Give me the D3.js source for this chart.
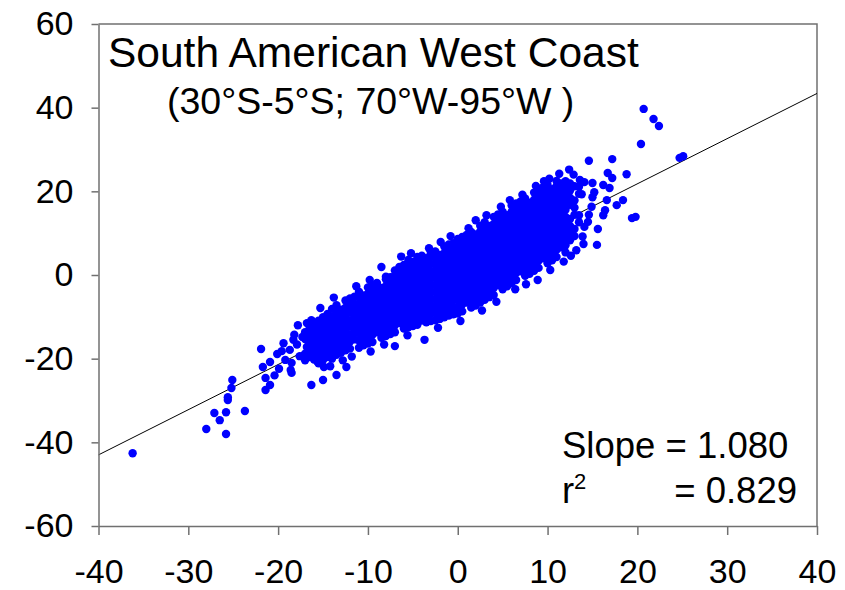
<!DOCTYPE html>
<html>
<head>
<meta charset="utf-8">
<script src="https://cdn.jsdelivr.net/npm/d3@7"></script>
<style>
  body { margin: 0; background: #fff; }
  text { font-family: Arial, "Liberation Sans", sans-serif; fill: #000; }
</style>
</head>
<body>
<svg id="chart" width="845" height="590"></svg>
<script>
// --- data ---
const xTicks = [-40, -30, -20, -10, 0, 10, 20, 30, 40];
const yTicks = [-60, -40, -20, 0, 20, 40, 60];
const titleText = "South American West Coast";
const subtitleText = "(30°S-5°S; 70°W-95°W )";
const slope = 1.080;
const intercept = 0.2;
const rSquared = 0.829;

// isolated points around the cloud
const outliers = [
  [-36.2, -42.6], [-28.0, -36.8], [-27.1, -33.0], [-25.8, -32.8], [-26.5, -34.7],
  [-25.8, -38.0], [-23.7, -32.5], [-25.6, -29.9], [-25.2, -27.0], [-25.1, -25.1],
  [-25.6, -29.2], [-21.9, -17.7], [-21.7, -22.0], [-21.4, -24.6], [-21.4, -27.5],
  [-20.9, -26.3], [-20.9, -20.8], [-20.1, -18.9], [-19.4, -16.3], [-19.6, -18.2],
  [-18.7, -17.9], [-18.3, -15.5], [-19.2, -20.3], [-18.5, -21.0], [-18.6, -22.7],
  [-18.5, -23.4], [-18.2, -14.3], [-17.8, -12.0], [-16.8, -17.2], [-16.3, -18.6],
  [-15.6, -20.8], [-16.8, -11.5], [-16.0, -13.1], [-16.8, -15.5], [-15.4, -14.3],
  [-16.3, -10.8], [-14.9, -11.2], [-14.9, -22.0], [-16.3, -26.3], [-15.0, -25.1],
  [-15.3, -7.9], [-13.5, -23.9], [-12.4, -22.0],
  [-8.5, 1.9], [-7.0, -17.0], [-3.7, -15.5], [8.9, -1.2], [2.0, 13.1], [5.8, 17.9],
  [20.7, 39.7], [21.8, 37.3], [22.4, 35.6], [20.4, 31.3], [24.7, 28.0], [25.1, 28.4],
  [14.6, 27.3], [17.2, 27.7], [16.7, 24.4], [17.2, 23.2], [18.8, 24.1], [16.2, 21.5],
  [16.9, 20.8], [15.0, 22.0], [18.4, 17.9], [17.7, 16.7], [16.6, 17.9], [16.4, 15.5],
  [19.4, 13.6], [19.8, 13.9], [15.0, 18.6], [14.9, 16.3], [14.1, 11.5], [14.5, 12.7],
  [14.0, 7.4], [15.5, 7.2], [13.6, 22.7], [14.1, 22.2], [16.2, 14.3]
];

// points sticking out of the upper and lower edges of the cloud
const edgePoints = [
  [-17.6, -19.4], [-17.3, -14.8], [-17.9, -16.6], [-19.9, -22.4], [-20.4, -24.0],
  [-11.8, -19.5], [-9.7, -18.3], [-8.2, -16.6], [-5.6, -14.4], [-2.2, -12.6],
  [0.3, -11.0], [2.7, -8.5], [4.3, -6.4], [6.4, -3.4], [7.6, -2.2], [10.3, 1.2],
  [11.8, 3.2], [12.6, 4.6], [-13.8, -5.4], [-11.3, -2.7], [-9.8, -1.2], [-5.2, 5.2],
  [-3.2, 6.4], [-0.8, 9.3], [1.2, 11.2], [3.2, 14.3], [4.8, 16.3], [7.2, 19.2],
  [8.7, 21.3], [10.2, 23.0], [11.3, 24.2], [12.9, 24.0], [13.2, 5.9], [13.9, 9.2],
  [14.6, 14.4], [15.2, 19.8], [13.8, 19.3], [15.6, 11.0], [12.4, 25.2], [-14.2, -21.8],
  [-12.8, -20.4], [-6.3, 4.4], [-1.9, 7.9], [9.6, 22.4]
];

// dense cloud, read column by column: [x, [y values]]
const cloudColumns = [
  [-17.0, [-20.4, -18.8, -15.3, -13.7]],
  [-16.5, [-19.6, -17.8, -16.2, -14.5, -12.8]],
  [-16.0, [-20.2, -18.6, -16.9, -15.1, -13.4, -11.8]],
  [-15.5, [-21.1, -19.4, -17.7, -16.0, -14.3, -12.6, -10.9]],
  [-15.0, [-20.3, -18.7, -16.9, -15.2, -13.5, -11.9, -10.1]],
  [-14.5, [-19.6, -17.8, -16.1, -14.4, -12.7, -11.0, -9.3]],
  [-14.0, [-20.0, -18.4, -16.6, -15.0, -13.2, -11.5, -9.9, -8.1]],
  [-13.5, [-19.1, -17.4, -15.7, -14.0, -12.3, -10.6, -8.9, -7.2]],
  [-13.0, [-18.6, -16.8, -15.1, -13.4, -11.7, -10.0, -8.3]],
  [-12.5, [-18.0, -16.3, -14.6, -12.9, -11.2, -9.5, -7.8, -6.1]],
  [-12.0, [-17.6, -15.9, -14.2, -12.4, -10.8, -9.0, -7.3, -5.6]],
  [-11.5, [-15.4, -13.7, -12.0, -10.3, -8.6, -6.9, -5.2]],
  [-11.0, [-17.4, -15.6, -13.9, -12.2, -10.5, -8.8, -7.1, -5.4, -4.0]],
  [-10.5, [-16.8, -15.1, -13.4, -11.7, -10.0, -8.3, -6.6, -4.9]],
  [-10.0, [-16.4, -14.7, -13.0, -11.3, -9.6, -7.9, -6.2, -4.5, -3.0]],
  [-9.5, [-16.0, -14.3, -12.6, -10.9, -9.2, -7.5, -5.8, -4.1, -2.5]],
  [-9.0, [-13.7, -12.0, -10.3, -8.6, -6.9, -5.2, -3.5, -1.9]],
  [-8.5, [-15.0, -13.3, -11.6, -9.9, -8.2, -6.5, -4.8, -3.1]],
  [-8.0, [-14.6, -12.9, -11.2, -9.5, -7.8, -6.1, -4.4, -2.7, -1.0, -0.4]],
  [-7.5, [-14.1, -12.4, -10.7, -9.0, -7.3, -5.6, -3.9, -2.2, -0.5]],
  [-7.0, [-13.7, -12.0, -10.3, -8.6, -6.9, -5.2, -3.5, -1.8, -0.1, 1.1]],
  [-6.5, [-11.5, -9.8, -8.1, -6.4, -4.7, -3.0, -1.3, 0.4, 1.9]],
  [-6.0, [-12.8, -11.1, -9.4, -7.7, -6.0, -4.3, -2.6, -0.9, 0.8, 2.4]],
  [-5.5, [-12.5, -10.8, -9.1, -7.4, -5.7, -4.0, -2.3, -0.6, 1.1, 2.8, 3.6]],
  [-5.0, [-12.2, -10.5, -8.8, -7.1, -5.4, -3.7, -2.0, -0.3, 1.4, 3.1]],
  [-4.5, [-11.9, -10.2, -8.5, -6.8, -5.1, -3.4, -1.7, 0.0, 1.7, 3.4, 4.3]],
  [-4.0, [-10.9, -9.9, -8.2, -6.5, -4.8, -3.1, -1.4, 0.3, 2.0, 3.7, 4.6]],
  [-3.5, [-11.3, -9.6, -7.9, -6.2, -4.5, -2.8, -1.1, 0.6, 2.3, 4.0]],
  [-3.0, [-11.0, -9.3, -7.6, -5.9, -4.2, -2.5, -0.8, 0.9, 2.6, 4.3, 5.2]],
  [-2.5, [-10.8, -9.1, -7.4, -5.7, -4.0, -2.3, -0.6, 1.1, 2.8, 4.5, 5.6]],
  [-2.0, [-10.5, -8.8, -7.1, -5.4, -3.7, -2.0, -0.3, 1.4, 3.1, 4.8]],
  [-1.5, [-10.1, -8.4, -6.7, -5.0, -3.3, -1.6, 0.1, 1.8, 3.5, 5.2, 6.8]],
  [-1.0, [-9.7, -8.0, -6.3, -4.6, -2.9, -1.2, 0.5, 2.2, 3.9, 5.6, 7.3]],
  [-0.5, [-9.4, -7.7, -6.0, -4.3, -2.6, -0.9, 0.8, 2.5, 4.2, 5.9, 7.6]],
  [0.0, [-9.2, -7.5, -5.8, -4.1, -2.4, -0.7, 1.0, 2.7, 4.4, 6.1, 7.8, 8.6]],
  [0.5, [-8.7, -7.0, -5.3, -3.6, -1.9, -0.2, 1.5, 3.2, 4.9, 6.6, 8.3, 9.1]],
  [1.0, [-6.6, -4.9, -3.2, -1.5, 0.2, 1.9, 3.6, 5.3, 7.0, 8.7, 9.6]],
  [1.5, [-7.8, -6.1, -4.4, -2.7, -1.0, 0.7, 2.4, 4.1, 5.8, 7.5, 9.2, 10.3]],
  [2.0, [-7.3, -5.6, -3.9, -2.2, -0.5, 1.2, 2.9, 4.6, 6.3, 8.0, 9.7]],
  [2.5, [-6.6, -4.9, -3.2, -1.5, 0.2, 1.9, 3.6, 5.3, 7.0, 8.7, 10.4, 11.8]],
  [3.0, [-5.9, -4.2, -2.5, -0.8, 0.9, 2.6, 4.3, 6.0, 7.7, 9.4, 11.1, 12.6]],
  [3.5, [-5.3, -3.6, -1.9, -0.2, 1.5, 3.2, 4.9, 6.6, 8.3, 10.0, 11.7]],
  [4.0, [-4.8, -3.1, -1.4, 0.3, 2.0, 3.7, 5.4, 7.1, 8.8, 10.5, 12.2, 13.9]],
  [4.5, [-2.4, -0.7, 1.0, 2.7, 4.4, 6.1, 7.8, 9.5, 11.2, 12.9, 14.5]],
  [5.0, [-3.4, -1.7, 0.0, 1.7, 3.4, 5.1, 6.8, 8.5, 10.2, 11.9, 13.6, 15.1]],
  [5.5, [-2.7, -1.0, 0.7, 2.4, 4.1, 5.8, 7.5, 9.2, 10.9, 12.6, 14.3]],
  [6.0, [-1.9, -0.2, 1.5, 3.2, 4.9, 6.6, 8.3, 10.0, 11.7, 13.4, 15.1, 16.6]],
  [6.5, [-1.2, 0.5, 2.2, 3.9, 5.6, 7.3, 9.0, 10.7, 12.4, 14.1, 15.8, 17.1]],
  [7.0, [0.9, 2.6, 4.3, 6.0, 7.7, 9.4, 11.1, 12.8, 14.5, 16.2, 17.6]],
  [7.5, [-0.2, 1.5, 3.2, 4.9, 6.6, 8.3, 10.0, 11.7, 13.4, 15.1, 16.8, 18.3]],
  [8.0, [0.3, 2.0, 3.7, 5.4, 7.1, 8.8, 10.5, 12.2, 13.9, 15.6, 17.3]],
  [8.5, [1.0, 2.7, 4.4, 6.1, 7.8, 9.5, 11.2, 12.9, 14.6, 16.3, 18.0, 19.7]],
  [9.0, [1.7, 3.4, 5.1, 6.8, 8.5, 10.2, 11.9, 13.6, 15.3, 17.0, 18.7, 20.4]],
  [9.5, [4.0, 5.7, 7.4, 9.1, 10.8, 12.5, 14.2, 15.9, 17.6, 19.3, 21.0]],
  [10.0, [2.8, 4.5, 6.2, 7.9, 9.6, 11.3, 13.0, 14.7, 16.4, 18.1, 19.8, 21.5]],
  [10.5, [3.5, 5.2, 6.9, 8.6, 10.3, 12.0, 13.7, 15.4, 17.1, 18.8, 20.5]],
  [11.0, [4.3, 6.0, 7.7, 9.4, 11.1, 12.8, 14.5, 16.2, 17.9, 19.6, 21.3, 22.5]],
  [11.5, [6.6, 8.3, 10.0, 11.7, 13.4, 15.1, 16.8, 18.5, 20.2, 21.9]],
  [12.0, [5.4, 7.1, 8.8, 10.5, 12.2, 13.9, 15.6, 17.3, 19.0, 20.7, 22.4]],
  [12.5, [8.3, 10.0, 11.7, 13.4, 16.8, 18.5, 20.2, 21.9]],
  [13.0, [9.3, 11.0, 14.4, 16.1, 17.8, 21.2]],
  [13.5, [12.6, 14.3, 19.4, 21.1]]
];

const points = outliers.concat(
  edgePoints,
  cloudColumns.flatMap(([x, ys]) => ys.map((y) => [x, y]))
);

// --- draw ---
const svg = d3.select("#chart");
const axisColor = "#707070";

const x = d3.scaleLinear().domain([-40, 40]).range([98.5, 817]);
const y = d3.scaleLinear().domain([-60, 60]).range([526, 24]);

svg.append("rect").attr("width", 845).attr("height", 590).attr("fill", "#fff");

// top and right frame
svg.append("path")
  .attr("d", `M${x(-40)},${y(60)}H${x(40)}V${y(-60)}`)
  .attr("fill", "none")
  .attr("stroke", axisColor)
  .attr("stroke-width", 1.5);

// trend line (under the points)
const trend = d3.line()
  .x((d) => x(d))
  .y((d) => y(slope * d + intercept));
svg.append("path")
  .datum(x.domain())
  .attr("d", trend)
  .attr("fill", "none")
  .attr("stroke", "#000")
  .attr("stroke-width", 1);

svg.append("g")
  .selectAll("circle")
  .data(points)
  .join("circle")
  .attr("cx", (d) => x(d[0]))
  .attr("cy", (d) => y(d[1]))
  .attr("r", 4.2)
  .attr("fill", "#0000ff");

const plainNum = (d) => String(d); // hyphen minus like the original
const gx = svg.append("g")
  .attr("transform", `translate(0,${y(-60)})`)
  .call(d3.axisBottom(x).tickValues(xTicks).tickFormat(plainNum)
    .tickSize(9).tickSizeOuter(0).tickPadding(24));
const gy = svg.append("g")
  .attr("transform", `translate(${x(-40)},0)`)
  .call(d3.axisLeft(y).tickValues(yTicks).tickFormat(plainNum)
    .tickSize(7).tickSizeOuter(0).tickPadding(18));

[gx, gy].forEach((g) => {
  g.selectAll("path, line").attr("stroke", axisColor).attr("stroke-width", 1.5);
  g.selectAll("text")
    .attr("fill", "#000")
    .style("font-family", "Arial, 'Liberation Sans', sans-serif")
    .style("font-size", "34px");
});

// titles
svg.append("text").attr("x", 108).attr("y", 67)
  .style("font-size", "42.5px").text(titleText);
svg.append("text").attr("x", 167).attr("y", 113.5)
  .style("font-size", "37.5px").text(subtitleText);

// stats
svg.append("text").attr("x", 562).attr("y", 458)
  .style("font-size", "36.5px").text(`Slope = ${slope.toFixed(3)}`);
svg.append("text").attr("x", 562).attr("y", 502.5)
  .style("font-size", "36.5px").text("r");
svg.append("text").attr("x", 574).attr("y", 489)
  .style("font-size", "22px").text("2");
svg.append("text").attr("x", 797).attr("y", 502.5)
  .attr("text-anchor", "end")
  .style("font-size", "36.5px").text(`= ${rSquared.toFixed(3)}`);
</script>
</body>
</html>
